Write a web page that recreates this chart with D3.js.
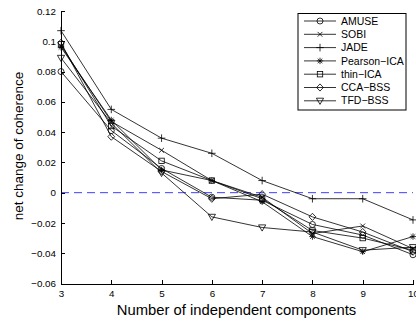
<!DOCTYPE html>
<html>
<head>
<meta charset="utf-8">
<script src="https://cdn.jsdelivr.net/npm/d3@7"></script>
<style>
  body { margin: 0; background: #fff; }
  svg { display: block; font-family: "Liberation Sans", Arial, sans-serif; }
  .axis path, .axis line { stroke: #000; stroke-width: 1; shape-rendering: crispEdges; }
  .axis text { font-size: 9.8px; fill: #000; }
</style>
</head>
<body>
<svg width="416" height="324"></svg>
<script>
var components = [3, 4, 5, 6, 7, 8, 9, 10];
var methods = ['AMUSE', 'SOBI', 'JADE', 'Pearson\u2212ICA', 'thin\u2212ICA', 'CCA\u2212BSS', 'TFD\u2212BSS'];
var markers = ['circle', 'x', 'plus', 'star', 'square', 'diamond', 'triangle'];

var amuse   = [0.080, 0.041, 0.016, -0.003, -0.005, -0.021, -0.028, -0.041];
var sobi    = [0.097, 0.047, 0.028,  0.008, -0.003, -0.027, -0.022, -0.037];
var jade    = [0.107, 0.055, 0.036,  0.026,  0.008, -0.004, -0.004, -0.018];
var pearson = [0.096, 0.048, 0.015,  0.008, -0.006, -0.029, -0.039, -0.029];
var thinIca = [0.098, 0.044, 0.021,  0.008, -0.004, -0.025, -0.030, -0.038];
var ccaBss  = [0.099, 0.037, 0.014, -0.004, -0.001, -0.016, -0.026, -0.039];
var tfdBss  = [0.089, 0.046, 0.013, -0.016, -0.023, -0.026, -0.038, -0.036];

var xTicks = [3, 4, 5, 6, 7, 8, 9, 10];
var yTicks = [-0.06, -0.04, -0.02, 0, 0.02, 0.04, 0.06, 0.08, 0.1, 0.12];

var series = [amuse, sobi, jade, pearson, thinIca, ccaBss, tfdBss];

var svg = d3.select('svg');

var x = d3.scaleLinear().domain([3, 10]).range([61, 413]);
var y = d3.scaleLinear().domain([-0.06, 0.12]).range([283.5, 11]);

// zero reference line
svg.append('line')
  .attr('x1', x(3)).attr('x2', x(10))
  .attr('y1', y(0)).attr('y2', y(0))
  .style('stroke', '#4040ff')
  .style('stroke-width', 1)
  .style('stroke-dasharray', '8,5');

svg.append('g')
  .attr('class', 'axis')
  .attr('transform', 'translate(0,' + y(-0.06) + ')')
  .call(d3.axisBottom(x).tickValues(xTicks).tickSizeInner(-4).tickSizeOuter(0).tickPadding(7).tickFormat(d3.format('d')));

svg.append('g')
  .attr('class', 'axis')
  .attr('transform', 'translate(' + x(3) + ',0)')
  .call(d3.axisLeft(y).tickValues(yTicks).tickSizeInner(-4).tickSizeOuter(0).tickPadding(5).tickFormat(d3.format('~g')));

function marker(g, type, cx, cy) {
  var s = g.append('g').attr('transform', 'translate(' + cx + ',' + cy + ')')
    .style('fill', 'none').style('stroke', '#000').style('stroke-width', 0.8);
  if (type === 'circle') s.append('circle').attr('r', 3);
  if (type === 'square') s.append('rect').attr('x', -2.7).attr('y', -2.7).attr('width', 5.4).attr('height', 5.4);
  if (type === 'diamond') s.append('path').attr('d', 'M0,-3.6L3.4,0L0,3.6L-3.4,0Z');
  if (type === 'triangle') s.append('path').attr('d', 'M-3.6,-2.6L3.6,-2.6L0,3.6Z');
  if (type === 'plus' || type === 'star') {
    var r = type === 'plus' ? 3.8 : 3.2;
    s.append('path').attr('d', 'M' + (-r) + ',0H' + r + 'M0,' + (-r) + 'V' + r);
  }
  if (type === 'x' || type === 'star') {
    var q = type === 'x' ? 2.4 : 2.3;
    s.append('path').attr('d', 'M' + (-q) + ',' + (-q) + 'L' + q + ',' + q + 'M' + (-q) + ',' + q + 'L' + q + ',' + (-q));
  }
}

var line = d3.line()
  .x((d, i) => x(components[i]))
  .y(d => y(d));

series.forEach((vals, k) => {
  svg.append('path')
    .datum(vals)
    .attr('d', line)
    .style('fill', 'none')
    .style('stroke', '#000')
    .style('stroke-width', 0.8);
  vals.forEach((v, i) => marker(svg, markers[k], x(components[i]), y(v)));
});

// legend
var legend = svg.append('g');
legend.append('rect')
  .attr('x', 298).attr('y', 13.5).attr('width', 108).attr('height', 96.5)
  .style('fill', '#fff').style('stroke', '#000').style('stroke-width', 1);

methods.forEach((name, i) => {
  var ly = 21 + i * 13.3;
  legend.append('line')
    .attr('x1', 304).attr('x2', 336).attr('y1', ly).attr('y2', ly)
    .style('stroke', '#000').style('stroke-width', 0.8);
  marker(legend, markers[i], 320, ly);
  legend.append('text')
    .attr('x', 341).attr('y', ly)
    .attr('dy', '0.35em')
    .style('font-size', '10.5px')
    .text(name);
});

svg.append('text')
  .attr('x', 236.5).attr('y', 315)
  .attr('text-anchor', 'middle')
  .style('font-size', '14.8px')
  .text('Number of independent components');

svg.append('text')
  .attr('transform', 'translate(23,146) rotate(-90)')
  .attr('text-anchor', 'middle')
  .style('font-size', '13.5px')
  .text('net change of coherence');
</script>
</body>
</html>
